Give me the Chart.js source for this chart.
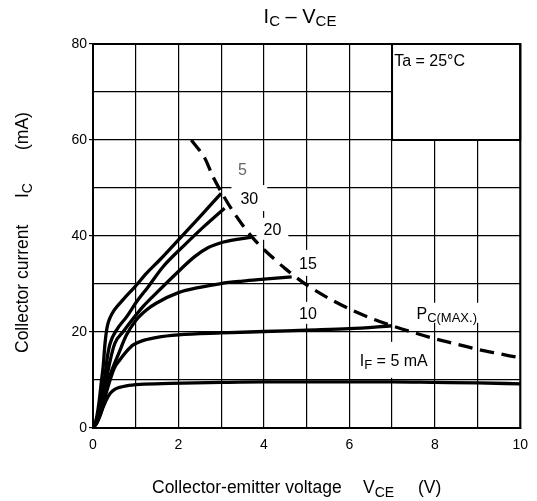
<!DOCTYPE html>
<html>
<head>
<meta charset="utf-8">
<script src="https://cdn.jsdelivr.net/npm/chart.js@4.4.1/dist/chart.umd.min.js"></script>
<style>
    html, body { margin: 0; padding: 0; background: #fff; }
    #wrap { width: 537px; height: 501px; }
</style>
</head>
<body>
<div id="wrap"><canvas id="icVce"></canvas></div>
<script>
// I_C - V_CE curves, one pair of arrays per forward current I_F (mA)
const vceIf5 = [0, 0.08, 0.16, 0.24, 0.32, 0.4, 0.5, 0.6, 0.78, 1.1, 1.8, 3, 4, 5, 6, 7, 8, 9, 10];
const icIf5 = [0, 1.0, 2.6, 4.4, 6.0, 7.2, 8.0, 8.4, 8.8, 9.1, 9.3, 9.5, 9.6, 9.6, 9.6, 9.6, 9.5, 9.4, 9.2];

const vceIf10 = [0, 0.1, 0.2, 0.3, 0.4, 0.5, 0.63, 0.78, 0.94, 1.2, 1.5, 2, 3, 4, 5, 6, 7];
const icIf10 = [0, 1.2, 3.5, 7, 10, 12.5, 14.2, 15.9, 17.3, 18.3, 18.9, 19.4, 19.8, 20.1, 20.4, 20.7, 21.3];

const vceIf15 = [0, 0.1, 0.2, 0.3, 0.44, 0.6, 0.78, 1.0, 1.25, 1.48, 2, 2.5, 3, 3.5, 4, 4.65];
const icIf15 = [0, 1.3, 4, 8, 12, 15.5, 19.3, 22.4, 24.6, 26, 28.2, 29.3, 30.1, 30.6, 31, 31.5];

const vceIf20 = [0, 0.1, 0.2, 0.3, 0.4, 0.51, 0.71, 0.94, 1.17, 1.48, 1.95, 2.38, 2.7, 3.0, 3.31, 3.7];
const icIf20 = [0, 1.5, 5, 9.5, 14, 17.6, 20.1, 22.8, 25.3, 28.1, 32.2, 35.7, 37.6, 38.6, 39.2, 39.7];

const vceIf25 = [0, 0.1, 0.2, 0.28, 0.34, 0.4, 0.55, 0.79, 1.02, 1.29, 1.64, 2.14, 2.6, 3.08];
const icIf25 = [0, 2, 6, 11, 15, 17.6, 20.4, 23.2, 26.3, 29.4, 33.6, 38.1, 42, 45.8];

const vceIf30 = [0, 0.08, 0.15, 0.2, 0.24, 0.28, 0.33, 0.4, 0.5, 0.71, 0.98, 1.25, 1.56, 2, 2.5, 3];
const icIf30 = [0, 2, 6, 10, 13, 17.5, 21, 23, 24.6, 26.8, 29.4, 32.2, 35, 39.2, 44, 48.9];

// P_C(MAX.) limit (dashed)
const vcePcMax = [2.3, 2.6, 2.8, 3, 3.25, 3.5, 3.75, 4, 4.5, 5, 5.5, 6, 6.5, 7, 7.5, 8, 8.5, 9, 9.5, 10];
const icPcMax = [60, 56.5, 52.5, 49.2, 45.5, 42.3, 39.5, 37.2, 33.2, 29.8, 27.1, 24.8, 22.9, 21.3, 19.9, 18.6, 17.5, 16.4, 15.5, 14.6];

const xTickLabels = [0, 2, 4, 6, 8, 10];
const yTickLabels = [0, 20, 40, 60, 80];

const FONT = "Arial, 'Liberation Sans', Helvetica, sans-serif";

const zip = (xs, ys) => xs.map((x, i) => ({ x, y: ys[i] }));

const curve = (xs, ys) => ({
    data: zip(xs, ys),
    showLine: true,
    borderColor: '#000',
    borderWidth: 3.3,
    pointRadius: 0,
    fill: false,
    cubicInterpolationMode: 'monotone',
});

// text made of runs; sub runs are smaller and dropped
function runsWidth(ctx, runs) {
    let w = 0;
    runs.forEach(r => {
        ctx.font = `${r.size}px ${FONT}`;
        w += ctx.measureText(r.t).width;
    });
    return w;
}

function drawRuns(ctx, runs, x, y, color) {
    ctx.fillStyle = color || '#000';
    ctx.textAlign = 'left';
    ctx.textBaseline = 'alphabetic';
    runs.forEach(r => {
        ctx.font = `${r.size}px ${FONT}`;
        ctx.fillText(r.t, x, y + (r.dy || 0));
        x += ctx.measureText(r.t).width;
    });
}

const M = 16, S = 13;
const notes = [
    { runs: [{ t: '5', size: M }], v: 3.5, i: 54, color: '#666', px: 4, py: 4 },
    { runs: [{ t: '30', size: M }], v: 3.66, i: 47.9, px: 9, py: 6 },
    { runs: [{ t: '20', size: M }], v: 4.2, i: 41.5, px: 7, py: 4 },
    { runs: [{ t: '15', size: M }], v: 5.03, i: 34.4, px: 12, py: 6 },
    { runs: [{ t: '10', size: M }], v: 5.03, i: 24.0, px: 6, py: 4 },
    { runs: [{ t: 'P', size: M }, { t: 'C(MAX.)', size: S, dy: 3 }], v: 8.28, i: 24.0, px: 3, py: 3 },
    { runs: [{ t: 'I', size: M }, { t: 'F', size: S, dy: 3 }, { t: ' = 5 mA', size: M }], v: 7.04, i: 14.2, px: 6, py: 11 },
];

const figurePlugin = {
    id: 'figure',
    beforeDatasetsDraw(chart) {
        const { ctx, chartArea: a, scales: { x, y } } = chart;
        ctx.save();
        // white boxes behind the labels (cover the grid)
        ctx.fillStyle = '#fff';
        notes.forEach(n => {
            const w = runsWidth(ctx, n.runs);
            const cx = x.getPixelForValue(n.v), cy = y.getPixelForValue(n.i);
            ctx.fillRect(cx - w / 2 - n.px, cy - 7 - n.py, w + 2 * n.px, 14 + 2 * n.py);
        });
        // Ta box
        const bx = x.getPixelForValue(7), by = y.getPixelForValue(80);
        const bw = x.getPixelForValue(10) - bx, bh = y.getPixelForValue(60) - by;
        ctx.fillRect(bx, by, bw, bh);
        ctx.strokeStyle = '#000';
        ctx.lineWidth = 2;
        ctx.strokeRect(bx, by, bw, bh);
        // frame
        ctx.strokeRect(a.left, a.top, a.right - a.left, a.bottom - a.top);
        ctx.restore();
    },
    afterDatasetsDraw(chart) {
        const { ctx, scales: { x, y } } = chart;
        ctx.save();
        notes.forEach(n => {
            const w = runsWidth(ctx, n.runs);
            const cx = x.getPixelForValue(n.v), cy = y.getPixelForValue(n.i);
            drawRuns(ctx, n.runs, cx - w / 2, cy + 6, n.color);
        });
        drawRuns(ctx, [{ t: 'Ta = 25°C', size: M }], x.getPixelForValue(7.05), y.getPixelForValue(76.7) + 6);

        // title
        const title = [{ t: 'I', size: 20 }, { t: 'C', size: 15, dy: 3 }, { t: ' – V', size: 20 }, { t: 'CE', size: 15, dy: 3 }];
        drawRuns(ctx, title, 300 - runsWidth(ctx, title) / 2, 23);

        // x axis title
        drawRuns(ctx, [{ t: 'Collector-emitter voltage', size: 17.5 }], 152, 493);
        drawRuns(ctx, [{ t: 'V', size: 17.5 }, { t: 'CE', size: 14, dy: 4 }], 363, 493);
        drawRuns(ctx, [{ t: '(V)', size: 17.5 }], 418, 493);

        // y axis title
        ctx.translate(28, 353);
        ctx.rotate(-Math.PI / 2);
        drawRuns(ctx, [{ t: 'Collector current', size: 17.5 }], 0, 0);
        drawRuns(ctx, [{ t: 'I', size: 17.5 }, { t: 'C', size: 14, dy: 4 }], 155, 0);
        drawRuns(ctx, [{ t: '(mA)', size: 17.5 }], 203, 0);
        ctx.restore();
    }
};

new Chart(document.getElementById('icVce'), {
    type: 'scatter',
    data: {
        datasets: [
            curve(vceIf5, icIf5),
            curve(vceIf10, icIf10),
            curve(vceIf15, icIf15),
            curve(vceIf20, icIf20),
            curve(vceIf25, icIf25),
            curve(vceIf30, icIf30),
            Object.assign(curve(vcePcMax, icPcMax), { borderDash: [14, 8], cubicInterpolationMode: 'default', tension: 0.3 }),
        ]
    },
    options: {
        responsive: true,
        maintainAspectRatio: false,
        animation: false,
        layout: { padding: { top: 44, right: 15, left: 0, bottom: 0 } },
        plugins: {
            legend: { display: false },
            tooltip: { enabled: false }
        },
        scales: {
            x: {
                type: 'linear',
                min: 0,
                max: 10,
                afterFit: (s) => { s.height = 73; },
                ticks: {
                    stepSize: 1,
                    autoSkip: false,
                    maxRotation: 0,
                    padding: 9,
                    color: '#000',
                    font: { family: FONT, size: 14 },
                    callback: (v) => xTickLabels.includes(v) ? String(v) : ''
                },
                grid: { color: '#000', lineWidth: 1.2, tickLength: 0 },
                border: { color: '#000', width: 2 }
            },
            y: {
                min: 0,
                max: 80,
                afterFit: (s) => { s.width = 93; },
                ticks: {
                    stepSize: 10,
                    autoSkip: false,
                    padding: 2,
                    color: '#000',
                    font: { family: FONT, size: 14 },
                    callback: (v) => yTickLabels.includes(v) ? String(v) : ''
                },
                grid: {
                    color: '#000',
                    lineWidth: 1.2,
                    tickLength: 4,
                    tickColor: (c) => c.tick && yTickLabels.includes(c.tick.value) ? '#000' : 'rgba(0,0,0,0)'
                },
                border: { color: '#000', width: 2 }
            }
        }
    },
    plugins: [figurePlugin]
});
</script>
</body>
</html>
